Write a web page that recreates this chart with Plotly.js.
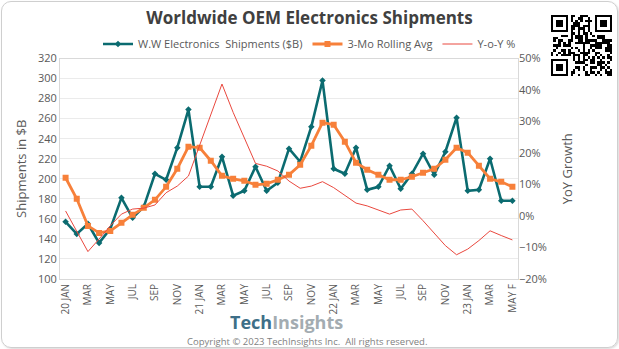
<!DOCTYPE html>
<html><head><meta charset="utf-8">
<script src="https://cdn.plot.ly/plotly-3.0.1.min.js"></script>
<style>
html,body{margin:0;padding:0;background:#fff;}
#wrap{position:relative;width:619px;height:349px;overflow:hidden;}
#chart{position:absolute;left:0;top:0;width:619px;height:349px;}
#frame{position:absolute;left:1px;top:1px;width:615px;height:345px;border:1px solid #cfcfcf;border-radius:10px;pointer-events:none;box-shadow:1px 1px 2px rgba(0,0,0,0.15);}
#qr{position:absolute;left:551px;top:15px;width:61px;height:61px;}
</style></head>
<body><div id="wrap"><div id="chart"></div><div id="frame"></div><svg id="qr" viewBox="0 0 25 25" shape-rendering="crispEdges"></svg></div>
<script>
// ---- data ----
const months = ["2020-01","2020-02","2020-03","2020-04","2020-05","2020-06","2020-07","2020-08","2020-09","2020-10","2020-11","2020-12",
"2021-01","2021-02","2021-03","2021-04","2021-05","2021-06","2021-07","2021-08","2021-09","2021-10","2021-11","2021-12",
"2022-01","2022-02","2022-03","2022-04","2022-05","2022-06","2022-07","2022-08","2022-09","2022-10","2022-11","2022-12",
"2023-01","2023-02","2023-03","2023-04","2023-05"];
const shipments = [157,145,155,136,150,181,161,172,205,199,231,269,
192,192,222,183,188,212,188,196,230,217,252,298,
210,205,231,189,192,213,190,205,225,204,227,261,
188,189,220,178,178];
const rollingAvg = [201,180,153,146,148,156,164,171,179,192,210,232,
231,218,203,200,198,194,195,199,204,214,233,256,
254,237,216,209,204,199,199,202,206,210,219,231,
226,213,200,197,192];
const yoyPct = [1.6,-4.9,-11.3,-7.3,-3.1,0.6,2.2,2.5,3.5,7.4,9.5,12.7,
22.4,32.2,41.9,32.9,24.6,16.7,15.8,14.3,11.1,8.8,9.5,10.9,
9.0,6.6,4.1,3.2,2.0,0.6,1.9,2.2,-1.5,-5.4,-9.4,-12.3,
-10.5,-7.8,-4.7,-6.2,-7.6];
const tickText = ["20 JAN","MAR","MAY","JUL","SEP","NOV","21 JAN","MAR","MAY","JUL","SEP","NOV",
"22 JAN","MAR","MAY","JUL","SEP","NOV","23 JAN","MAR","MAY F"];

const idx = months.map((m,i)=>i);
const tickVals = tickText.map((t,i)=>i*2);
const FONT = "'Open Sans', 'Noto Sans', sans-serif";
const GRAY = "#595959";

const traces = [
 {x:idx, y:shipments, name:"W.W Electronics\u00a0\u00a0Shipments ($B)", type:"scatter", mode:"lines+markers",
  line:{color:"#0b6b70", width:2.6}, marker:{symbol:"diamond", size:5, color:"#0b6b70"}},
 {x:idx, y:rollingAvg, name:"3-Mo Rolling Avg", type:"scatter", mode:"lines+markers",
  line:{color:"#f7803a", width:2.8}, marker:{symbol:"square", size:6, color:"#f7803a"}},
 {x:idx, y:yoyPct.map(v=>v/100), name:"Y-o-Y %", type:"scatter", mode:"lines", yaxis:"y2",
  line:{color:"#e9483e", width:1}}
];

const px = v => (v-60)/458, py = v => (279-v)/222;

const layout = {
 width:619, height:349, paper_bgcolor:"rgba(0,0,0,0)", plot_bgcolor:"#fff",
 margin:{l:60, r:101, t:57, b:70},
 font:{family:FONT, color:GRAY, size:11},
 title:{text:"<b>Worldwide OEM Electronics Shipments</b>", x:0.5, xref:"container", xanchor:"center",
   y:1-18/349, yref:"container", yanchor:"middle", font:{family:FONT, size:17, color:"#404040"}},
 showlegend:true,
 legend:{orientation:"h", x:0.5, xref:"container", xanchor:"center", y:1-44/349, yref:"container", yanchor:"middle",
   font:{size:11, color:GRAY}, itemwidth:30, tracegroupgap:0, bgcolor:"rgba(0,0,0,0)"},
 xaxis:{range:[-0.5,40.5], tickvals:tickVals, ticktext:tickText, tickangle:-90, tickfont:{size:10, color:GRAY},
   showgrid:false, showline:true, linecolor:"#d9d9d9", mirror:true, ticks:"", zeroline:false, fixedrange:true},
 yaxis:{range:[100,320], dtick:20, tick0:100, showgrid:true, gridcolor:"#ebebeb", zeroline:false,
   showline:true, linecolor:"#d9d9d9", mirror:true, ticks:"", tickfont:{size:11, color:GRAY},
   title:{text:"Shipments in $B", font:{size:13, color:GRAY}, standoff:8}},
 yaxis2:{range:[-0.2,0.5], dtick:0.1, tick0:-0.2, tickformat:".0%", overlaying:"y", side:"right",
   showgrid:false, zeroline:false, ticks:"", tickfont:{size:11, color:GRAY},
   title:{text:"YoY Growth", font:{size:13, color:GRAY}, standoff:16}},
 annotations:[
  {xref:"paper", yref:"paper", x:px(286), y:py(322), xanchor:"center", yanchor:"middle", showarrow:false,
   text:"<b><span style='color:#3e6f88'>Tech</span><span style='color:#a3acb1'>Insights</span></b>",
   font:{family:FONT, size:18}},
  {xref:"paper", yref:"paper", x:px(307), y:py(342), xanchor:"center", yanchor:"middle", showarrow:false,
   text:"Copyright \u00a9 2023 TechInsights Inc.\u00a0\u00a0All rights reserved.", font:{family:FONT, size:9.5, color:"#7f7f7f"}}
 ]
};
Plotly.newPlot("chart", traces, layout, {displayModeBar:false, staticPlot:true});

// decorative QR-style badge
(function(){
 const svg = document.getElementById("qr"); const N=25; let s="";
 function finder(x,y){ s+=`<rect x="${x}" y="${y}" width="7" height="7" fill="#000"/><rect x="${x+1}" y="${y+1}" width="5" height="5" fill="#fff"/><rect x="${x+2}" y="${y+2}" width="3" height="3" fill="#000"/>`; }
 finder(0,0); finder(18,0); finder(0,18);
 let h=12345;
 for(let r=0;r<N;r++) for(let c=0;c<N;c++){
  const inF=(r<8&&c<8)||(r<8&&c>16)||(r>16&&c<8); if(inF) continue;
  h=(h*1103515245+12345)&0x7fffffff;
  if((h>>16)%2===0) s+=`<rect x="${c}" y="${r}" width="1" height="1" fill="#000"/>`;
 }
 svg.innerHTML=s;
})();
</script></body></html>
